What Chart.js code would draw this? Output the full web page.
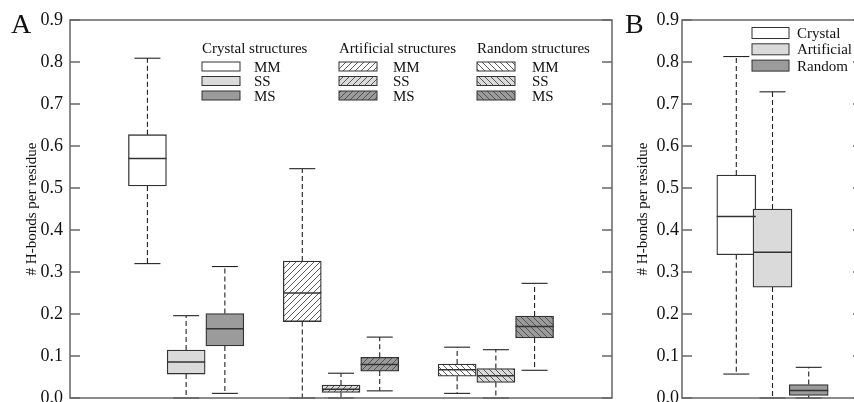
<!DOCTYPE html>
<html>
<head>
<meta charset="utf-8">
<script src="https://cdn.jsdelivr.net/npm/chart.js@4.4.1/dist/chart.umd.min.js"></script>
<style>
  html, body { margin: 0; padding: 0; background: #fff; overflow: hidden; }
  .panel { position: absolute; top: 0; }
</style>
</head>
<body>
<div class="panel" style="left:0px"><canvas id="chartA" width="620" height="402"></canvas></div>
<div class="panel" style="left:620px"><canvas id="chartB" width="260" height="402"></canvas></div>
<script>
// Panel A: three structure groups x three bond types
const groupsA = ['Crystal structures', 'Artificial structures', 'Random structures'];
const typesA = ['MM', 'SS', 'MS'];
const posA = [1, 2, 3, 5, 6, 7, 9, 10, 11];
const loA  = [0.320, 0.000, 0.011, 0.000, 0.000, 0.017, 0.011, 0.000, 0.066];
const q1A  = [0.505, 0.057, 0.124, 0.182, 0.013, 0.064, 0.052, 0.037, 0.143];
const medA = [0.570, 0.086, 0.165, 0.250, 0.021, 0.080, 0.067, 0.053, 0.170];
const q3A  = [0.627, 0.114, 0.201, 0.326, 0.031, 0.097, 0.081, 0.070, 0.195];
const hiA  = [0.809, 0.196, 0.313, 0.546, 0.059, 0.145, 0.121, 0.115, 0.273];

// Panel B: pooled per structure type
const catsB = ['Crystal', 'Artificial', 'Random'];
const posB = [1, 2, 3];
const loB  = [0.057, 0.000, 0.000];
const q1B  = [0.341, 0.264, 0.006];
const medB = [0.432, 0.347, 0.018];
const q3B  = [0.531, 0.450, 0.032];
const hiB  = [0.813, 0.729, 0.073];

const yTitle = '# H-bonds per residue';
const serif = "'Liberation Serif', 'DejaVu Serif', serif";

// fill colours: white / light gray / mid gray
const fills = ['#ffffff', '#dadada', '#9b9b9b'];

function hatch(bg, dir) {
  const c = document.createElement('canvas');
  c.width = 6; c.height = 6;
  const g = c.getContext('2d');
  g.fillStyle = bg;
  g.fillRect(0, 0, 6, 6);
  g.strokeStyle = '#4a4a4a';
  g.lineWidth = 0.9;
  g.beginPath();
  if (dir === '/') {
    g.moveTo(0, 6); g.lineTo(6, 0);
    g.moveTo(-1, 1); g.lineTo(1, -1);
    g.moveTo(5, 7); g.lineTo(7, 5);
  } else {
    g.moveTo(0, 0); g.lineTo(6, 6);
    g.moveTo(-1, 5); g.lineTo(1, 7);
    g.moveTo(5, -1); g.lineTo(7, 1);
  }
  g.stroke();
  return g.createPattern(c, 'repeat');
}

const fillsA = [
  fills[0], fills[1], fills[2],
  hatch(fills[0], '/'), hatch(fills[1], '/'), hatch(fills[2], '/'),
  hatch(fills[0], '\\'), hatch(fills[1], '\\'), hatch(fills[2], '\\')
];

function line(ctx, x1, y1, x2, y2) {
  ctx.beginPath();
  ctx.moveTo(x1, y1);
  ctx.lineTo(x2, y2);
  ctx.stroke();
}

const boxExtras = {
  id: 'boxExtras',
  afterDatasetsDraw(chart, args, o) {
    const { ctx, scales: { x, y } } = chart;
    const bars = chart.getDatasetMeta(0).data;
    ctx.save();
    o.pos.forEach((p, i) => {
      const px = x.getPixelForValue(p);
      const yLo = y.getPixelForValue(o.lo[i]);
      const yHi = y.getPixelForValue(o.hi[i]);
      ctx.strokeStyle = '#222';
      ctx.lineWidth = 1.1;
      ctx.setLineDash([5, 3]);
      line(ctx, px, y.getPixelForValue(o.q3[i]), px, yHi);
      line(ctx, px, y.getPixelForValue(o.q1[i]), px, yLo);
      ctx.setLineDash([]);
      line(ctx, px - 13, yHi, px + 13, yHi);
      line(ctx, px - 13, yLo, px + 13, yLo);
      const half = bars[i].width / 2;
      const yMed = y.getPixelForValue(o.med[i]);
      ctx.strokeStyle = '#333';
      ctx.lineWidth = 1.5;
      line(ctx, px - half, yMed, px + half, yMed);
    });
    ctx.restore();
  },
  afterDraw(chart, args, o) {
    const { ctx, chartArea: ca, scales: { y } } = chart;
    ctx.save();
    // frame and inward ticks
    ctx.strokeStyle = '#666';
    ctx.lineWidth = 1.5;
    ctx.strokeRect(ca.left, ca.top, ca.width, ca.height);
    y.ticks.forEach(t => {
      const py = y.getPixelForValue(t.value);
      const major = Math.round(t.value * 100) % 10 === 0;
      const len = major ? 10 : 5;
      line(ctx, ca.left, py, ca.left + len, py);
      line(ctx, ca.right, py, ca.right - len, py);
    });
    // panel letter
    ctx.fillStyle = '#111';
    ctx.font = '28px ' + serif;
    ctx.textBaseline = 'alphabetic';
    ctx.textAlign = 'left';
    ctx.fillText(o.letter, o.letterX, 33);
    // legend
    ctx.font = '15px ' + serif;
    o.legend.forEach(col => {
      if (col.head) ctx.fillText(col.head, col.x, 53);
      col.labels.forEach((lab, k) => {
        const cy = col.y0 + k * col.dy;
        ctx.fillStyle = col.fills[k];
        ctx.fillRect(col.x, cy - col.h / 2, col.w, col.h);
        ctx.strokeStyle = '#333';
        ctx.lineWidth = 1;
        ctx.strokeRect(col.x, cy - col.h / 2, col.w, col.h);
        ctx.fillStyle = '#111';
        ctx.fillText(lab, col.tx, cy + 5);
      });
    });
    ctx.restore();
  }
};

function yScale(width, pad, titlePad) {
  return {
    min: 0, max: 0.9,
    border: { display: false },
    grid: { display: false, drawTicks: false },
    ticks: {
      stepSize: 0.05,
      padding: pad,
      color: '#111',
      font: { family: serif, size: 18 },
      callback: v => Math.round(v * 100) % 10 === 0 ? v.toFixed(1) : ''
    },
    title: {
      display: true, text: yTitle, color: '#111',
      font: { family: serif, size: 15 },
      padding: { top: titlePad, bottom: 0 }
    },
    afterFit: s => { s.width = width; s.paddingTop = 0; s.paddingBottom = 0; }
  };
}

function boxData(pos, q1, q3) {
  return pos.map((p, i) => ({ x: p, y: [q1[i], q3[i]] }));
}

new Chart(document.getElementById('chartA'), {
  type: 'bar',
  data: {
    datasets: [{
      data: boxData(posA, q1A, q3A),
      backgroundColor: fillsA,
      borderColor: '#333',
      borderWidth: 1.3,
      borderSkipped: false,
      barThickness: 38
    }]
  },
  options: {
    responsive: false,
    animation: false,
    layout: { padding: { top: 20, right: 8, bottom: 4, left: 0 } },
    plugins: {
      legend: { display: false },
      tooltip: { enabled: false },
      boxExtras: {
        pos: posA, lo: loA, q1: q1A, med: medA, q3: q3A, hi: hiA,
        letter: 'A', letterX: 11,
        legend: groupsA.map((g, k) => ({
          head: g,
          x: [202, 339, 477][k], tx: [254, 393, 532][k],
          w: 38, h: 9, y0: 66.5, dy: 14.5,
          labels: typesA,
          fills: fillsA.slice(k * 3, k * 3 + 3)
        }))
      }
    },
    scales: {
      x: { type: 'linear', min: 0, max: 12, display: false },
      y: yScale(70, 7, 23)
    }
  },
  plugins: [boxExtras]
});

new Chart(document.getElementById('chartB'), {
  type: 'bar',
  data: {
    datasets: [{
      data: boxData(posB, q1B, q3B),
      backgroundColor: fills,
      borderColor: '#333',
      borderWidth: 1.3,
      borderSkipped: false,
      barThickness: 39
    }]
  },
  options: {
    responsive: false,
    animation: false,
    layout: { padding: { top: 20, right: 17, bottom: 4, left: 0 } },
    plugins: {
      legend: { display: false },
      tooltip: { enabled: false },
      boxExtras: {
        pos: posB, lo: loB, q1: q1B, med: medB, q3: q3B, hi: hiB,
        letter: 'B', letterX: 5,
        legend: [{
          head: null, x: 132, tx: 177,
          w: 37, h: 11, y0: 33, dy: 16.3,
          labels: catsB, fills: fills
        }]
      }
    },
    scales: {
      x: { type: 'linear', min: 0, max: 4, display: false },
      y: yScale(62, 3, 14)
    }
  },
  plugins: [boxExtras]
});
</script>
</body>
</html>
